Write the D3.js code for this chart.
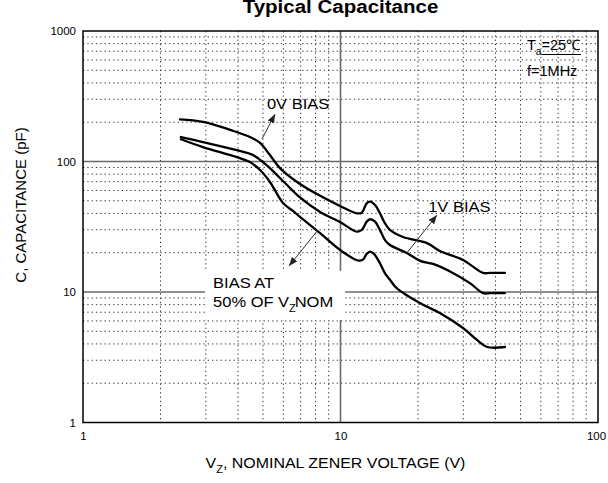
<!DOCTYPE html>
<html><head><meta charset="utf-8">
<script src="https://cdn.jsdelivr.net/npm/d3@7"></script>
<style>
body{margin:0;background:#fff}
svg{display:block}
text{font-family:Arial,"Liberation Sans",sans-serif;fill:#000}
</style>
</head><body>
<svg id="c" width="608" height="483"></svg>
<script>
// ---------- data ----------
const chartTitle = "Typical Capacitance";
const xTickValues = [1, 10, 100];
const yTickValues = [1, 10, 100, 1000];

// 0V bias
const volt0V = [2.38, 2.92, 3.96, 4.45, 4.87, 5.32, 5.82, 6.78, 8.2, 9.96, 11.56, 12.09, 12.64, 13.03, 13.62, 14.23, 14.89, 15.56, 17.5, 21.7, 24.3, 29.9, 35.8, 38.1, 43.5];
const cap0V  = [210, 201, 168, 154, 139, 112, 89, 69.7, 55.5, 45.6, 40.1, 40.5, 47.8, 49.2, 46.4, 40.1, 33.6, 29.9, 26.4, 23.7, 20.6, 17.6, 14.0, 14.0, 14.0];

// 1V bias
const volt1V = [2.40, 2.92, 3.96, 4.57, 5.00, 5.32, 6.20, 6.96, 8.33, 9.96, 11.56, 12.09, 12.64, 13.03, 13.62, 14.23, 14.89, 15.56, 18.1, 20.4, 22.9, 27.3, 31.8, 35.8, 38.1, 43.5];
const cap1V  = [154, 141, 122, 112, 99, 89, 66, 53, 41.0, 34.4, 29.0, 29.9, 34.6, 36.1, 34.6, 29.9, 25.0, 22.9, 19.9, 17.3, 16.4, 14.0, 11.7, 9.8, 9.8, 9.8];

// bias at 50% of Vz nom
const volt50 = [2.40, 2.92, 3.96, 4.45, 4.87, 5.32, 5.98, 6.54, 6.96, 8.33, 9.96, 11.73, 12.26, 12.64, 13.03, 13.49, 14.23, 14.89, 15.56, 16.53, 20.4, 24.3, 29.9, 33.9, 37.1, 43.5];
const cap50  = [148, 129, 108, 99, 86, 69.7, 48.1, 41.8, 37.6, 28.3, 21.0, 17.4, 17.8, 19.6, 20.4, 19.6, 16.6, 13.9, 12.4, 10.7, 8.2, 6.9, 5.3, 4.29, 3.79, 3.79];

// annotation arrows (tail on curve -> head at label), data units
const arrowTailV = [4.96, 18.1, 8.18];
const arrowTailC = [149, 19.9, 29.9];
const arrowHeadV = [5.57, 23.7, 6.31];
const arrowHeadC = [231, 38.9, 15.8];

// ---------- layout ----------
const svg = d3.select("#c");
const x = d3.scaleLog().domain([1, 100]).range([83, 598]);
const y = d3.scaleLog().domain([1, 1000]).range([422.5, 31]);
const [x0, x1] = x.range();
const [y0, y1] = y.range();
const SX = 1.1;

const minorX = [], minorY = [];
for (const d of [1, 10]) for (let k = 2; k <= 9; k++) minorX.push(d * k);
for (const d of [1, 10, 100]) for (let k = 2; k <= 9; k++) minorY.push(d * k);

// minor dotted grid
const grid = svg.append("g");
grid.selectAll("line.mx").data(minorX).join("line")
  .attr("x1", d => x(d)).attr("x2", d => x(d)).attr("y1", y1).attr("y2", y0)
  .attr("stroke", "#333").attr("stroke-width", 1).attr("stroke-dasharray", "1.3,3");
grid.selectAll("line.my").data(minorY).join("line")
  .attr("y1", d => y(d)).attr("y2", d => y(d)).attr("x1", x0).attr("x2", x1)
  .attr("stroke", "#333").attr("stroke-width", 1).attr("stroke-dasharray", "1.3,3");
// major solid grid
grid.selectAll("line.Mx").data([10]).join("line")
  .attr("x1", d => x(d)).attr("x2", d => x(d)).attr("y1", y1).attr("y2", y0)
  .attr("stroke", "#6a6a6a").attr("stroke-width", 1.6);
grid.selectAll("line.My").data([10, 100]).join("line")
  .attr("y1", d => y(d)).attr("y2", d => y(d)).attr("x1", x0).attr("x2", x1)
  .attr("stroke", "#6a6a6a").attr("stroke-width", 1.6);

// label box for "BIAS AT 50%..."
const ann = svg.append("g");
const biasBox = ann.append("rect").attr("fill", "#fff");

// frame
svg.append("rect").attr("x", x0).attr("y", y1).attr("width", x1 - x0).attr("height", y0 - y1)
  .attr("fill", "none").attr("stroke", "#000").attr("stroke-width", 1.5);

// axes tick labels
const ax = svg.append("g").attr("transform", `translate(0,${y0})`)
  .call(d3.axisBottom(x).tickValues(xTickValues).tickFormat(d3.format("d")).tickSize(0).tickPadding(9));
const ay = svg.append("g").attr("transform", `translate(${x0},0)`)
  .call(d3.axisLeft(y).tickValues(yTickValues).tickFormat(d3.format("d")).tickSize(0).tickPadding(7));
[ax, ay].forEach(a => {
  a.select(".domain").remove();
  a.selectAll("text").attr("font-size", 11.5).attr("font-family", "Arial, 'Liberation Sans', sans-serif").attr("fill", "#000");
});
ax.selectAll("text").filter(d => d === 100).attr("dx", -2);

// curves
const line = d3.line().x(d => x(d[0])).y(d => y(d[1])).curve(d3.curveCatmullRom.alpha(0.5));
const series = [[volt0V, cap0V], [volt1V, cap1V], [volt50, cap50]];
svg.append("g").selectAll("path").data(series).join("path")
  .attr("d", s => line(s[0].map((v, i) => [v, s[1][i]])))
  .attr("fill", "none").attr("stroke", "#000").attr("stroke-width", 2.3)
  .attr("stroke-linejoin", "round").attr("stroke-linecap", "round");

// arrows
svg.append("defs").append("marker").attr("id", "ah")
  .attr("markerUnits", "userSpaceOnUse").attr("markerWidth", 10).attr("markerHeight", 8)
  .attr("refX", 9).attr("refY", 3.5).attr("orient", "auto")
  .append("path").attr("d", "M0,0 L9,3.5 L0,7 Z").attr("fill", "#222");
svg.append("g").selectAll("line").data(arrowTailV).join("line")
  .attr("x1", (d, i) => x(arrowTailV[i])).attr("y1", (d, i) => y(arrowTailC[i]))
  .attr("x2", (d, i) => x(arrowHeadV[i])).attr("y2", (d, i) => y(arrowHeadC[i]))
  .attr("stroke", "#333").attr("stroke-width", 1).attr("marker-end", "url(#ah)");

// text helper
function txt(parent, px, py, size, anchor, sx) {
  return parent.append("text")
    .attr("transform", `translate(${px},${py}) scale(${sx || SX},1)`)
    .attr("font-size", size).attr("text-anchor", anchor || "start");
}

// annotation labels
txt(ann, x(5.18), y(253), 15).text("0V BIAS");
txt(ann, x(21.9), y(41.0), 15).text("1V BIAS");
const b1 = txt(ann, x(3.2), y(10.7), 15).text("BIAS AT");
const b2 = txt(ann, x(3.2), y(7.67), 15);
b2.append("tspan").text("50% OF V");
b2.append("tspan").attr("font-size", 10).attr("dy", 5).text("Z");
b2.append("tspan").attr("dy", -5).attr("dx", -1).text("NOM");
{
  const bb1 = b1.node().getBoundingClientRect(), bb2 = b2.node().getBoundingClientRect();
  const l = Math.min(bb1.left, bb2.left) - 8, r = Math.max(bb1.right, bb2.right) + 12;
  const t = bb1.top - 4, b = bb2.bottom + 6;
  biasBox.attr("x", l).attr("y", t).attr("width", r - l).attr("height", b - t);
}

// conditions
const ta = txt(ann, x(53), y(715), 14.5, "start", 1.0);
ta.append("tspan").text("T");
ta.append("tspan").attr("font-size", 10).attr("dy", 5).text("a");
const eq = ta.append("tspan").attr("dy", -5).text("=25\u2103");
{
  const r = eq.node().getBoundingClientRect();
  ann.append("line").attr("x1", r.left).attr("x2", r.right)
    .attr("y1", y(715) + 4.5).attr("y2", y(715) + 4.5).attr("stroke", "#000").attr("stroke-width", 1.2);
}
txt(ann, x(53), y(452), 14.5, "start", 1.0).text("f=1MHz");

// titles
svg.append("text").attr("transform", `translate(${(x0 + x1) / 2},13) scale(1.08,1)`)
  .attr("text-anchor", "middle").attr("font-size", 19).attr("font-weight", "bold").text(chartTitle);

const xt = txt(svg, (x0 + x1) / 2 - 5, 468, 14.5, "middle");
xt.append("tspan").text("V");
xt.append("tspan").attr("font-size", 10).attr("dy", 5).text("Z");
xt.append("tspan").attr("dy", -5).text(", NOMINAL ZENER VOLTAGE (V)");

svg.append("text").attr("transform", `translate(26,205) rotate(-90)`)
  .attr("text-anchor", "middle").attr("font-size", 15).text("C, CAPACITANCE (pF)");
</script>
</body></html>
